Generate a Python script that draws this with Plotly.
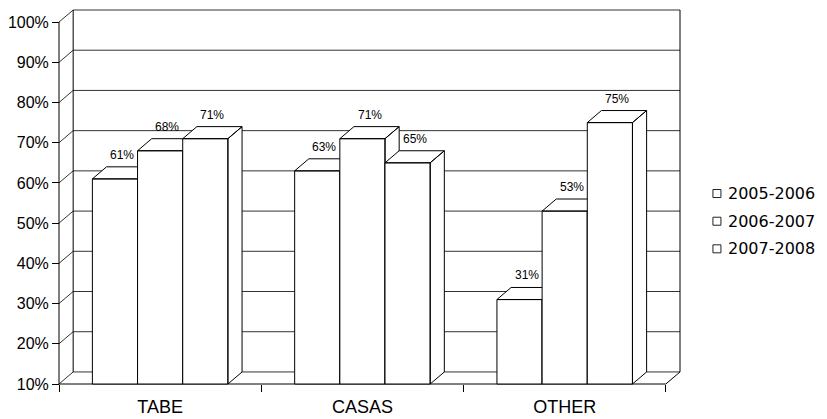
import plotly.graph_objects as go

# ---------------- data ----------------
categories = ["TABE", "CASAS", "OTHER"]
series_names = ["2005-2006", "2006-2007", "2007-2008"]
values_2005_2006 = [61, 63, 31]
values_2006_2007 = [68, 71, 53]
values_2007_2008 = [71, 65, 75]
y_ticks = [10, 20, 30, 40, 50, 60, 70, 80, 90, 100]
y_tick_labels = ["10%", "20%", "30%", "40%", "50%", "60%", "70%", "80%", "90%", "100%"]
series_values = [values_2005_2006, values_2006_2007, values_2007_2008]

# ---------------- geometry / style ----------------
W, H = 827, 419
PPX = 202.3      # px per category unit
PPY = 4.022      # px per percent unit
PAD = 2          # px padding so edge lines are not clipped
DX = 0.07        # depth offset (category units)
DY = 3.0         # depth offset (percent units)
GW = 0.67        # cluster width
YMIN, YMAX = 10, 100
FRONT_LEFT_PX = 59
FLOOR_PX = 384

xr0 = -0.5 - PAD / PPX
xr1 = len(categories) - 0.5 + DX + PAD / PPX
yr0 = YMIN - PAD / PPY
yr1 = YMAX + DY + PAD / PPY
ML = FRONT_LEFT_PX - PAD
plot_w = (xr1 - xr0) * PPX
MR = W - ML - plot_w
MB = H - (FLOOR_PX + PAD)
plot_h = (yr1 - yr0) * PPY
MT = H - MB - plot_h

FONT = "Liberation Sans, Arial, sans-serif"
EDGE = "#000000"
GRID = "#333333"

fig = go.Figure()

# ---- walls: gridlines on back wall and side wall ----
xl, xr = -0.5, len(categories) - 0.5
gx, gy = [], []
for t in y_ticks:
    gx += [xl + DX, xr + DX, None]
    gy += [t + DY, t + DY, None]
    gx += [xl, xl + DX, None]
    gy += [t, t + DY, None]
fig.add_trace(go.Scatter(x=gx, y=gy, mode="lines", line=dict(color=GRID, width=1),
                         hoverinfo="skip", showlegend=False))

# ---- wall / floor outlines ----
ox = [xl + DX, xl + DX, None, xr + DX, xr + DX, None,
      xl, xl, None, xl, xr, xr + DX, None]
oy = [YMIN + DY, YMAX + DY, None, YMIN + DY, YMAX + DY, None,
      YMIN, YMAX, None, YMIN, YMIN, YMIN + DY, None]
fig.add_trace(go.Scatter(x=ox, y=oy, mode="lines", line=dict(color=EDGE, width=1),
                         hoverinfo="skip", showlegend=False))

# ---- 3D bars (front, top, right side) ----
nser = len(series_names)
bw = GW / nser
annotations = []
for i, cat in enumerate(categories):
    for j in range(nser):
        v = series_values[j][i]
        x0 = i - GW / 2 + j * bw
        x1 = x0 + bw
        px = [x0, x1, x1, x0, x0, None,
              x0, x1, x1 + DX, x0 + DX, x0, None,
              x1, x1 + DX, x1 + DX, x1, x1]
        py = [YMIN, YMIN, v, v, YMIN, None,
              v, v, v + DY, v + DY, v, None,
              YMIN, YMIN + DY, v + DY, v, YMIN]
        fig.add_trace(go.Scatter(x=px, y=py, mode="lines", fill="toself",
                                 fillcolor="white", line=dict(color=EDGE, width=1),
                                 name=series_names[j], showlegend=False,
                                 hoverinfo="skip"))
        annotations.append(dict(x=(x0 + x1) / 2 + DX / 2, y=v + DY, xref="x", yref="y",
                                text=f"{v}%", showarrow=False, yanchor="bottom",
                                yshift=3, font=dict(family=FONT, size=12, color="#000")))

# ---- legend (hollow squares + text) ----
def paper_x(px):
    return (px - ML) / plot_w

def paper_y(py):
    return (H - MB - py) / plot_h

shapes = []
legend_rows = [193.5, 221.2, 248.8]
for name, yc in zip(series_names, legend_rows):
    shapes.append(dict(type="rect", xref="paper", yref="paper",
                       x0=paper_x(713), x1=paper_x(721),
                       y0=paper_y(yc + 4), y1=paper_y(yc - 4),
                       line=dict(color="#222", width=1), fillcolor="white"))
    annotations.append(dict(x=paper_x(726), y=paper_y(yc), xref="paper", yref="paper",
                            text=name, showarrow=False, xanchor="left", yanchor="middle",
                            font=dict(family="DejaVu Sans", size=16, color="#000")))

fig.update_layout(
    width=W, height=H,
    margin=dict(l=ML, r=MR, t=MT, b=MB, pad=0, autoexpand=False),
    paper_bgcolor="white", plot_bgcolor="white",
    showlegend=False,
    annotations=annotations,
    shapes=shapes,
    xaxis=dict(range=[xr0, xr1], tickvals=list(range(len(categories))), ticktext=categories,
               ticks="", showgrid=False, zeroline=False, showline=False,
               anchor="free", position=PAD / plot_h, automargin=False,
               tickfont=dict(family=FONT, size=18, color="#000"),
               ticklabelstandoff=10,
               minor=dict(tickvals=[k - 0.5 for k in range(len(categories) + 1)],
                          ticks="outside", ticklen=7, tickcolor=EDGE, tickwidth=1,
                          showgrid=False)),
    yaxis=dict(range=[yr0, yr1], tickvals=y_ticks, ticktext=y_tick_labels,
               ticks="outside", ticklen=7, tickcolor=EDGE, tickwidth=1,
               showgrid=False, zeroline=False, showline=False,
               anchor="free", position=PAD / plot_w, automargin=False,
               tickfont=dict(family=FONT, size=16, color="#000")),
)

fig.write_html("out.html")
